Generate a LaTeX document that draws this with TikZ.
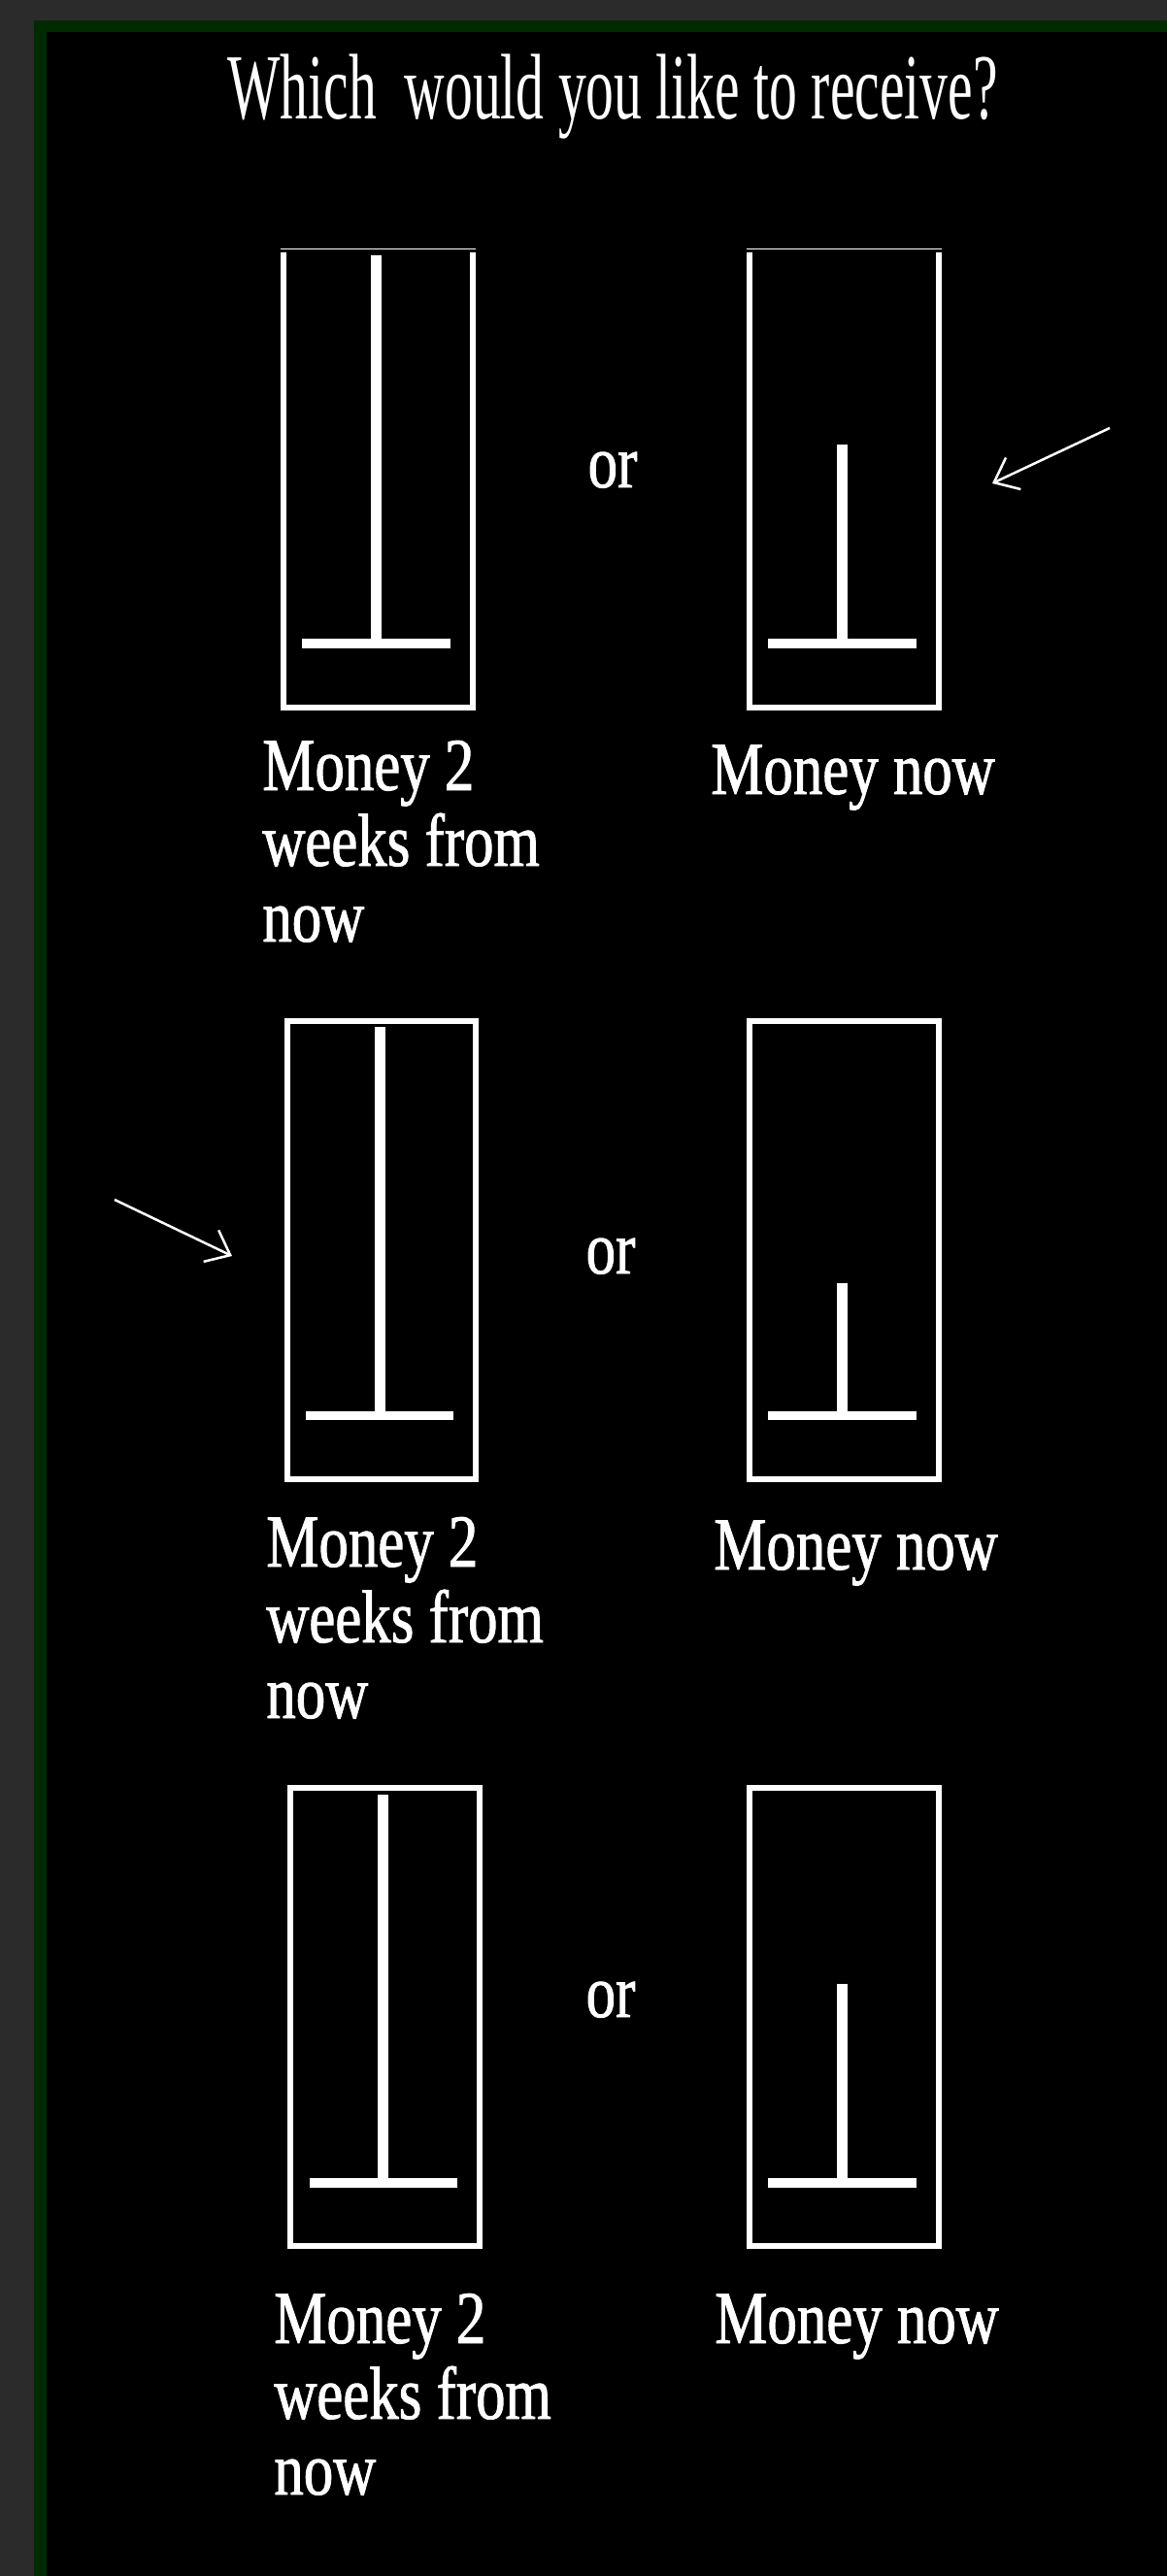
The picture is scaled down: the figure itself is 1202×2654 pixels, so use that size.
\documentclass[tikz,border=0pt]{standalone}
\usepackage{fontspec}
\usetikzlibrary{arrows.meta}
\newfontfamily\lblfam[FakeStretch=0.79,FakeBold=1.2]{Liberation Serif}
\newfontfamily\ttlfam[FakeStretch=0.6]{Liberation Serif}
\definecolor{bggray}{RGB}{43,43,43}
\definecolor{bordergreen}{RGB}{0,42,0}
\tikzset{
  lbl/.style={font={\lblfam\fontsize{38.5pt}{39pt}\selectfont}, text=white, inner sep=0pt, anchor=base west},
  ortext/.style={font={\lblfam\fontsize{38.5pt}{39pt}\selectfont}, text=white, inner sep=0pt, anchor=base},
  ttl/.style={font={\ttlfam\fontsize{48pt}{50pt}\selectfont}, text=white, inner sep=0pt, anchor=base},
  gauge/.style={rectangle, draw=white, line width=3pt, inner sep=0pt},
  gaugeopen/.style={rectangle, draw=none, inner sep=0pt},
  pointer/.style={draw=white, line width=1.25pt, -{Straight Barb[length=11pt,width=18pt,line width=1.25pt]}},
}
\begin{document}
\begin{tikzpicture}[x=0.5pt,y=-0.5pt]
\useasboundingbox (0,0) rectangle (1202,2654);
% background
\fill[bggray] (0,0) rectangle (1202,2654);
\fill[bordergreen] (35,21) rectangle (1202,2654);
\fill[black] (48,33) rectangle (1202,2654);

% title
\node[ttl] (title) at (631,123) {Which\ \ would you like to receive?};

% ---------- row 1 ----------
\node[gaugeopen, minimum width=97.5pt, minimum height=234.5pt] (b1l) at (389.5,494.5) {};
\draw[white, line width=3pt] (b1l.north west) -- (b1l.south west) -- (b1l.south east) -- (b1l.north east);
\draw[white, line width=0.8pt] ([xshift=-1.5pt,yshift=1.5pt]b1l.north west) -- ([xshift=1.5pt,yshift=1.5pt]b1l.north east);
\node[gaugeopen, minimum width=97.5pt, minimum height=234.5pt] (b1r) at (869.5,494.5) {};
\draw[white, line width=3pt] (b1r.north west) -- (b1r.south west) -- (b1r.south east) -- (b1r.north east);
\draw[white, line width=0.8pt] ([xshift=-1.5pt,yshift=1.5pt]b1r.north west) -- ([xshift=1.5pt,yshift=1.5pt]b1r.north east);
\fill[white] (382,263) rectangle (393,660);
\fill[white] (311,658) rectangle (464,668);
\fill[white] (862,458) rectangle (873,660);
\fill[white] (791,658) rectangle (944,668);
\node[ortext] (or1) at (631,502) {or};
\node[lbl] (l1l) at (270,814) {\begin{tabular}[t]{@{}l@{}}Money 2\\weeks from\\now\end{tabular}};
\node[lbl] (l1r) at (732,818) {Money now};
\coordinate (a1tail) at (1143,441);
\coordinate (a1tip) at (1022,498);
\draw[pointer] (a1tail) -- (a1tip);

% ---------- row 2 ----------
\node[gauge, minimum width=97pt, minimum height=236pt] (b2l) at (393,1288) {};
\node[gauge, minimum width=97.5pt, minimum height=236pt] (b2r) at (869.5,1288) {};
\fill[white] (386,1058) rectangle (397,1455);
\fill[white] (315,1454) rectangle (467,1463);
\fill[white] (862,1322) rectangle (873,1455);
\fill[white] (791,1454) rectangle (944,1463);
\node[ortext] (or2) at (629,1312) {or};
\node[lbl] (l2l) at (274,1614) {\begin{tabular}[t]{@{}l@{}}Money 2\\weeks from\\now\end{tabular}};
\node[lbl] (l2r) at (735,1617) {Money now};
\coordinate (a2tail) at (118,1236);
\coordinate (a2tip) at (239,1294);
\draw[pointer] (a2tail) -- (a2tip);

% ---------- row 3 ----------
\node[gauge, minimum width=97.5pt, minimum height=236pt] (b3l) at (396.5,2078) {};
\node[gauge, minimum width=97.5pt, minimum height=236pt] (b3r) at (869.5,2078) {};
\fill[white] (389,1849) rectangle (400,2245);
\fill[white] (319,2244) rectangle (471,2254);
\fill[white] (862,2044) rectangle (873,2245);
\fill[white] (791,2244) rectangle (944,2254);
\node[ortext] (or3) at (629,2078) {or};
\node[lbl] (l3l) at (282,2414) {\begin{tabular}[t]{@{}l@{}}Money 2\\weeks from\\now\end{tabular}};
\node[lbl] (l3r) at (736,2414) {Money now};
\end{tikzpicture}
\end{document}
